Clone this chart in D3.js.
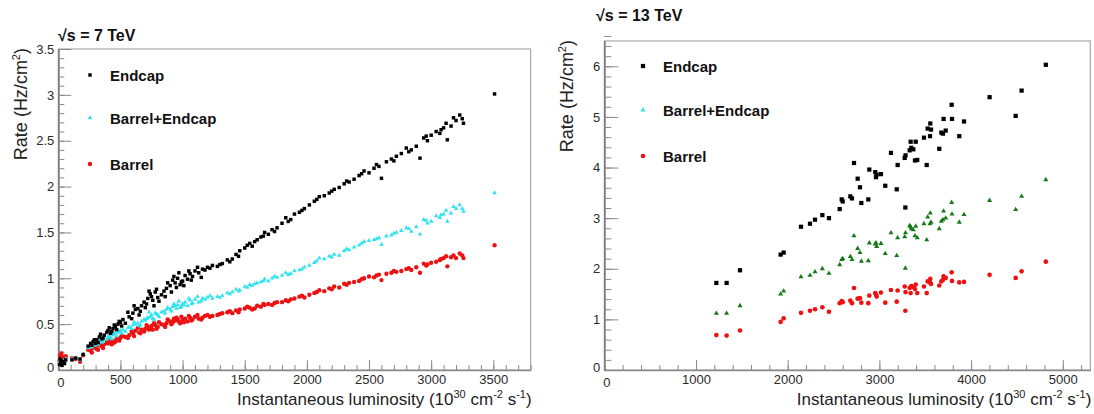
<!DOCTYPE html>
<html>
<head>
<meta charset="utf-8">
<script src="https://cdn.jsdelivr.net/npm/d3@7"></script>
<style>
  body { margin: 0; background: #fff; }
  svg { display: block; font-family: "Liberation Sans", Arial, sans-serif; }
</style>
</head>
<body>
<svg id="chart" width="1094" height="414"></svg>
<script>
// sqrt(s) = 7 TeV runs: luminosity (1e30 cm-2 s-1) and rates (Hz/cm2)
const lumi7 = [10, 15, 20, 25, 30, 40, 50, 60, 110, 140, 175, 200, 240, 260, 280, 300, 310, 330, 350, 370,
  390, 400, 420, 440, 460, 480, 500, 520, 540, 570, 600, 620, 650, 670, 690, 700, 720, 740, 750, 760,
  780, 800, 830, 850, 870, 900, 920, 940, 960, 980, 1000, 1020, 1040, 1060, 1080, 1100, 1130, 1160, 1200, 1240,
  1280, 1320, 1360, 1400, 1430, 1460, 1500, 1540, 1560, 1600, 1630, 1660, 1690, 1720, 1760, 1800, 1830, 1870, 1900, 1940,
  1980, 2020, 2060, 2100, 2140, 2180, 2220, 2260, 2300, 2340, 2380, 2420, 2460, 2500, 2540, 2580, 2600, 2640, 2680, 2720,
  2760, 2800, 2840, 2880, 2910, 2940, 2970, 3000, 3040, 3070, 3100, 3120, 3130, 3160, 3200, 3230, 3260, 3510,
  270, 290, 320, 340, 360, 410, 430, 450, 470, 490, 510, 560, 590, 610, 640, 660, 710, 730, 770, 790,
  810, 860, 880, 910, 930, 950, 970, 990, 1010, 1050, 1070, 1120, 1150, 1180, 1220, 1300, 1380, 1450, 1520, 1580,
  1650, 1740, 1850, 1960, 2080, 2200, 2320, 2440, 2560, 2700, 2820, 2960, 3080, 3180, 3250];
const endcap7 = [0.06, 0.12, 0.08, 0.10, 0.05, 0.09, 0.07, 0.11, 0.11, 0.13, 0.12, 0.17, 0.26, 0.29, 0.31, 0.29, 0.33, 0.36, 0.34, 0.38,
  0.41, 0.43, 0.40, 0.45, 0.47, 0.50, 0.52, 0.55, 0.51, 0.58, 0.62, 0.66, 0.60, 0.70, 0.74, 0.68, 0.78, 0.83, 0.80, 0.76,
  0.85, 0.79, 0.82, 0.86, 0.89, 0.92, 0.98, 0.95, 1.00, 0.93, 0.97, 1.03, 0.99, 1.05, 1.02, 1.08, 1.06, 1.10, 1.12, 1.14,
  1.13, 1.16, 1.20, 1.21, 1.26, 1.30, 1.33, 1.38, 1.35, 1.42, 1.45, 1.50, 1.48, 1.53, 1.55, 1.60, 1.66, 1.64, 1.70, 1.72,
  1.76, 1.80, 1.84, 1.89, 1.90, 1.93, 1.97, 1.99, 2.03, 2.05, 2.08, 2.12, 2.17, 2.15, 2.20, 2.22, 2.09, 2.27, 2.30, 2.33,
  2.36, 2.42, 2.40, 2.44, 2.31, 2.53, 2.50, 2.56, 2.60, 2.58, 2.64, 2.69, 2.51, 2.66, 2.72, 2.78, 2.69, 3.01,
  0.27, 0.33, 0.30, 0.39, 0.35, 0.46, 0.42, 0.49, 0.44, 0.53, 0.48, 0.63, 0.56, 0.70, 0.67, 0.64, 0.72, 0.86, 0.70, 0.88,
  0.75, 0.80, 0.95, 0.85, 1.02, 0.90, 1.06, 0.96, 0.92, 1.08, 0.98, 1.12, 1.01, 1.09, 1.11, 1.15, 1.18, 1.24, 1.36, 1.40,
  1.46, 1.51, 1.62, 1.74, 1.86, 1.95, 2.06, 2.14, 2.24, 2.28, 2.38, 2.55, 2.62, 2.75, 2.74];
const barrelEndcap7 = [0.08, 0.10, 0.09, 0.11, 0.07, 0.10, 0.09, 0.12, 0.12, 0.13, 0.11, 0.17, 0.24, 0.26, 0.28, 0.27, 0.29, 0.31, 0.30, 0.33,
  0.34, 0.36, 0.35, 0.38, 0.39, 0.41, 0.43, 0.44, 0.42, 0.47, 0.49, 0.50, 0.48, 0.53, 0.55, 0.54, 0.57, 0.58, 0.60, 0.56,
  0.62, 0.60, 0.63, 0.64, 0.66, 0.66, 0.69, 0.70, 0.71, 0.68, 0.72, 0.74, 0.70, 0.76, 0.73, 0.77, 0.74, 0.78, 0.79, 0.78,
  0.80, 0.81, 0.84, 0.85, 0.88, 0.87, 0.91, 0.93, 0.92, 0.95, 0.96, 0.99, 0.97, 1.00, 1.01, 1.03, 1.06, 1.05, 1.08, 1.09,
  1.12, 1.14, 1.17, 1.22, 1.21, 1.24, 1.26, 1.25, 1.30, 1.31, 1.34, 1.36, 1.40, 1.41, 1.42, 1.44, 1.37, 1.46, 1.47, 1.50,
  1.52, 1.55, 1.51, 1.56, 1.48, 1.64, 1.60, 1.62, 1.68, 1.66, 1.70, 1.74, 1.62, 1.71, 1.76, 1.80, 1.73, 1.93,
  0.25, 0.27, 0.28, 0.32, 0.31, 0.37, 0.34, 0.40, 0.37, 0.42, 0.40, 0.46, 0.45, 0.52, 0.51, 0.49, 0.56, 0.63, 0.55, 0.61,
  0.58, 0.62, 0.68, 0.64, 0.72, 0.67, 0.75, 0.69, 0.71, 0.78, 0.72, 0.80, 0.75, 0.77, 0.81, 0.79, 0.83, 0.86, 0.90, 0.94,
  0.97, 1.02, 1.04, 1.10, 1.19, 1.23, 1.32, 1.38, 1.43, 1.49, 1.54, 1.63, 1.69, 1.78, 1.76];
const barrel7 = [0.10, 0.16, 0.13, 0.18, 0.08, 0.14, 0.12, 0.15, 0.13, 0.12, 0.09, 0.16, 0.22, 0.21, 0.24, 0.25, 0.23, 0.27, 0.26, 0.28,
  0.30, 0.29, 0.31, 0.32, 0.31, 0.34, 0.35, 0.37, 0.36, 0.38, 0.40, 0.43, 0.41, 0.44, 0.42, 0.45, 0.47, 0.46, 0.48, 0.44,
  0.49, 0.47, 0.50, 0.49, 0.51, 0.53, 0.52, 0.54, 0.55, 0.51, 0.54, 0.56, 0.53, 0.57, 0.55, 0.58, 0.56, 0.57, 0.60, 0.59,
  0.60, 0.62, 0.63, 0.62, 0.65, 0.66, 0.67, 0.68, 0.66, 0.70, 0.69, 0.71, 0.72, 0.71, 0.74, 0.74, 0.76, 0.77, 0.78, 0.80,
  0.79, 0.82, 0.84, 0.87, 0.86, 0.89, 0.91, 0.90, 0.94, 0.95, 0.96, 0.97, 1.00, 1.02, 1.01, 1.04, 0.98, 1.05, 1.06, 1.07,
  1.08, 1.10, 1.09, 1.12, 1.06, 1.16, 1.15, 1.17, 1.18, 1.20, 1.22, 1.24, 1.13, 1.23, 1.22, 1.27, 1.22, 1.36,
  0.19, 0.26, 0.22, 0.29, 0.24, 0.33, 0.28, 0.30, 0.35, 0.32, 0.38, 0.35, 0.42, 0.37, 0.46, 0.40, 0.49, 0.44, 0.51, 0.45,
  0.52, 0.47, 0.55, 0.50, 0.56, 0.57, 0.53, 0.58, 0.52, 0.59, 0.54, 0.60, 0.55, 0.59, 0.58, 0.61, 0.64, 0.63, 0.69, 0.67,
  0.72, 0.73, 0.75, 0.81, 0.85, 0.88, 0.93, 0.99, 1.03, 1.08, 1.11, 1.14, 1.21, 1.25, 1.25];

// sqrt(s) = 13 TeV runs
const lumi13 = [1222, 1334, 1480, 1923, 1956, 2145, 2243, 2298, 2378, 2450, 2567, 2589, 2600, 2683, 2701, 2723, 2763, 2788, 2803, 2879,
  2890, 2955, 2963, 2970, 3017, 3064, 3126, 3189, 3199, 3276, 3283, 3285, 3330, 3341, 3348, 3370, 3388, 3396, 3413, 3486,
  3516, 3526, 3552, 3555, 3563, 3653, 3675, 3693, 3700, 3723, 3788, 3792, 3871, 3923, 4202, 4486, 4551, 4815];
const endcap13 = [1.72, 1.72, 1.97, 2.28, 2.32, 2.83, 2.89, 2.97, 3.06, 3.00, 3.18, 3.37, 3.33, 3.43, 3.39, 4.09, 3.78, 3.61, 3.30, 3.37,
  3.96, 3.91, 3.81, 3.86, 3.87, 3.64, 4.29, 3.57, 4.05, 4.19, 3.21, 4.24, 4.34, 4.51, 4.39, 4.36, 4.14, 4.51, 4.15, 4.59,
  4.05, 4.77, 4.62, 4.87, 4.75, 4.37, 4.69, 4.67, 4.96, 4.73, 5.24, 4.96, 4.62, 4.91, 5.39, 5.02, 5.52, 6.03];
const barrelEndcap13 = [1.12, 1.12, 1.27, 1.50, 1.56, 1.84, 1.87, 1.94, 2.00, 1.91, 2.08, 2.18, 2.20, 2.24, 2.18, 2.65, 2.40, 2.32, 2.15, 2.16,
  2.51, 2.49, 2.51, 2.44, 2.50, 2.30, 2.71, 2.26, 2.61, 2.63, 2.01, 2.71, 2.85, 2.83, 2.79, 2.77, 2.65, 2.84, 2.61, 2.89,
  2.57, 3.02, 2.89, 3.10, 2.92, 2.79, 2.94, 2.97, 3.14, 3.00, 3.31, 3.08, 2.92, 3.07, 3.35, 3.17, 3.43, 3.76];
const barrel13 = [0.69, 0.68, 0.78, 0.95, 1.02, 1.13, 1.17, 1.20, 1.24, 1.15, 1.32, 1.36, 1.34, 1.37, 1.32, 1.62, 1.41, 1.42, 1.33, 1.32,
  1.47, 1.52, 1.49, 1.45, 1.53, 1.33, 1.58, 1.35, 1.57, 1.65, 1.17, 1.54, 1.62, 1.52, 1.66, 1.64, 1.60, 1.69, 1.52, 1.65,
  1.52, 1.75, 1.73, 1.80, 1.70, 1.67, 1.75, 1.78, 1.85, 1.82, 1.93, 1.76, 1.73, 1.74, 1.88, 1.82, 1.95, 2.14];

// tick values
const xTicks7 = [0, 500, 1000, 1500, 2000, 2500, 3000, 3500];
const yTicks7 = [0, 0.5, 1, 1.5, 2, 2.5, 3, 3.5];
const xTicks13 = [0, 1000, 2000, 3000, 4000, 5000];
const yTicks13 = [0, 1, 2, 3, 4, 5, 6];

const seriesNames = ["Endcap", "Barrel+Endcap", "Barrel"];

const svg = d3.select("#chart");
const fmt = d3.format("~g");

function range(a, b, step) {
    return d3.range(Math.round(a / step), Math.round(b / step) + 1).map(i => +(i * step).toFixed(3));
}

function drawPanel(p) {
    const x = d3.scaleLinear().domain(p.xDomain).range(p.xRange);
    const y = d3.scaleLinear().domain(p.yDomain).range(p.yRange);
    const g = svg.append("g");

    // frame
    g.append("rect")
        .attr("x", p.xRange[0]).attr("y", p.yRange[1])
        .attr("width", p.xRange[1] - p.xRange[0]).attr("height", p.yRange[0] - p.yRange[1])
        .attr("fill", "none").attr("stroke", "#a8a8a8").attr("stroke-width", 1.2);

    // minor ticks
    g.append("g")
        .attr("transform", `translate(0,${p.yRange[0]})`)
        .call(d3.axisBottom(x).tickValues(range(p.xDomain[0], p.xDomain[1], p.xMinor)).tickSize(-5).tickSizeOuter(0).tickFormat(""))
        .call(a => a.selectAll("line").attr("stroke", "#8a8a8a"));
    g.append("g")
        .attr("transform", `translate(${p.xRange[0]},0)`)
        .call(d3.axisLeft(y).tickValues(range(p.yDomain[0], p.yDomain[1], p.yMinor)).tickSize(-p.yMinorLen).tickSizeOuter(0).tickFormat(""))
        .call(a => a.selectAll("line").attr("stroke", "#8a8a8a"));

    // major ticks and labels
    const xa = g.append("g")
        .attr("transform", `translate(0,${p.yRange[0]})`)
        .call(d3.axisBottom(x).tickValues(p.xTicks).tickSize(-10).tickSizeOuter(0).tickPadding(5).tickFormat(fmt));
    const ya = g.append("g")
        .attr("transform", `translate(${p.xRange[0]},0)`)
        .call(d3.axisLeft(y).tickValues(p.yTicks).tickSize(-p.yMajorLen).tickSizeOuter(0).tickPadding(4).tickFormat(fmt));
    [xa, ya].forEach(a => {
        a.select(".domain").attr("stroke", "#8a8a8a").attr("stroke-width", 1.3);
        a.selectAll("line").attr("stroke", "#8a8a8a");
        a.selectAll("text").attr("fill", "#2a2a2a").attr("font-size", 13);
    });
    xa.selectAll("text").filter(d => d === 0).attr("dx", 2).attr("dy", "0.9em");
    ya.selectAll("text").filter(d => d === 0).attr("dy", "0.1em");

    // data points
    const shapes = [
        { sym: d3.symbolSquare, size: p.sq, color: "#000", vals: p.endcap },
        { sym: d3.symbolTriangle, size: p.tri, color: p.beColor, vals: p.barrelEndcap },
        { sym: d3.symbolCircle, size: p.circ, color: "#ee1111", vals: p.barrel }
    ];
    shapes.slice().reverse().forEach(s => {
        g.append("g").selectAll("path")
            .data(p.lumi.map((l, i) => [l, s.vals[i]]))
            .join("path")
            .attr("d", d3.symbol(s.sym, s.size))
            .attr("transform", d => `translate(${x(d[0])},${y(d[1])})`)
            .attr("fill", s.color);
    });

    // legend
    const legColors = ["#000", "#2fe3f0", "#ee1111"];
    const legSyms = [d3.symbolSquare, d3.symbolTriangle, d3.symbolCircle];
    const legSizes = [p.sq, p.tri, p.circ];
    seriesNames.forEach((name, i) => {
        const ly = p.legendY[i];
        g.append("path")
            .attr("d", d3.symbol(legSyms[i], legSizes[i]))
            .attr("transform", `translate(${p.legendX},${ly})`)
            .attr("fill", legColors[i]);
        g.append("text")
            .attr("x", p.legendX + 20).attr("y", ly + 5.5)
            .attr("font-size", 15).attr("font-weight", "bold").attr("fill", "#111")
            .text(name);
    });

    // title
    g.append("text")
        .attr("x", p.titleX).attr("y", p.titleY)
        .attr("font-size", 16).attr("font-weight", "bold").attr("fill", "#111")
        .text(p.title);

    // axis titles
    const xt = g.append("text")
        .attr("x", p.xRange[1] + 1).attr("y", 405)
        .attr("text-anchor", "end").attr("font-size", 17).attr("fill", "#222");
    xt.append("tspan").text("Instantaneous luminosity (10");
    xt.append("tspan").attr("font-size", 11).attr("dy", -7).text("30");
    xt.append("tspan").attr("dy", 7).text(" cm");
    xt.append("tspan").attr("font-size", 11).attr("dy", -7).text("-2");
    xt.append("tspan").attr("dy", 7).text(" s");
    xt.append("tspan").attr("font-size", 11).attr("dy", -7).text("-1");
    xt.append("tspan").attr("dy", 7).text(")");

    const yt = g.append("text")
        .attr("transform", `translate(${p.yTitleX},${p.yRange[1] - 1}) rotate(-90)`)
        .attr("text-anchor", "end").attr("font-size", 18).attr("fill", "#222");
    yt.append("tspan").text("Rate (Hz/cm");
    yt.append("tspan").attr("font-size", 11).attr("dy", -7).text("2");
    yt.append("tspan").attr("dy", 7).text(")");
}

drawPanel({
    xDomain: [0, 3800], xRange: [58.3, 530.6],
    yDomain: [0, 3.5], yRange: [370, 49],
    xTicks: xTicks7, yTicks: yTicks7, xMinor: 100, yMinor: 0.1,
    yMajorLen: 13, yMinorLen: 6,
    lumi: lumi7, endcap: endcap7, barrelEndcap: barrelEndcap7, barrel: barrel7,
    beColor: "#2fe3f0", sq: 12, tri: 9, circ: 15,
    legendX: 90, legendY: [75, 118, 164],
    title: "\u221As = 7 TeV", titleX: 58, titleY: 41, yTitleX: 27
});

drawPanel({
    xDomain: [0, 5300], xRange: [604.3, 1090.3],
    yDomain: [0, 6.5], yRange: [370, 41],
    xTicks: xTicks13, yTicks: yTicks13, xMinor: 200, yMinor: 0.2,
    yMajorLen: 14, yMinorLen: 7,
    lumi: lumi13, endcap: endcap13, barrelEndcap: barrelEndcap13, barrel: barrel13,
    beColor: "#157a15", sq: 18, tri: 11, circ: 17,
    legendX: 643, legendY: [66, 110, 156],
    title: "\u221As = 13 TeV", titleX: 596, titleY: 21, yTitleX: 573
});
</script>
</body>
</html>
